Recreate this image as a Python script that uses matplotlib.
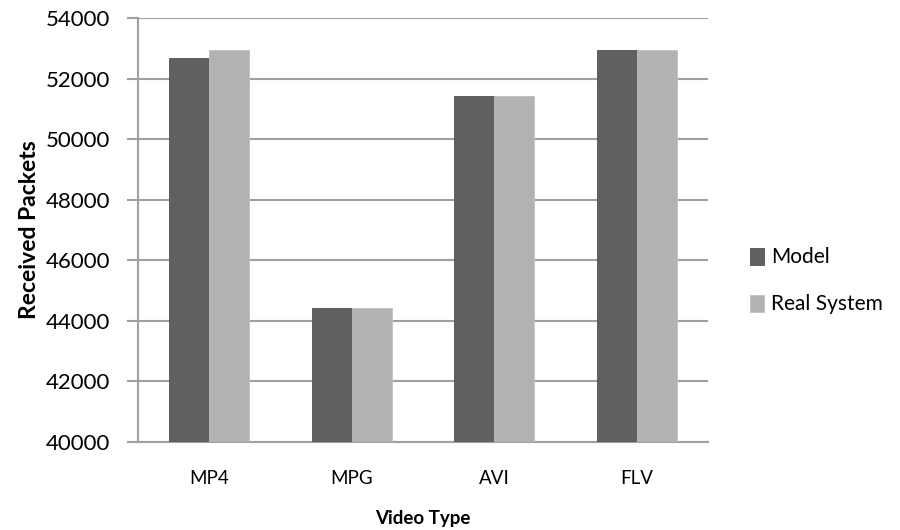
import matplotlib.pyplot as plt
import numpy as np

categories = ['MP4', 'MPG', 'AVI', 'FLV']
model = [52680, 44410, 51430, 52950]
real_system = [52940, 44410, 51430, 52950]

plt.rcParams['font.family'] = ['Lato', 'DejaVu Sans']

fig = plt.figure(figsize=(9, 5.3), dpi=100)
ax = fig.add_axes([0.153, 0.166, 0.634, 0.800])

x = np.arange(len(categories))
w = 0.28
ax.bar(x - w / 2, model, w, color='#606060', edgecolor='#505050', linewidth=0.6, label='Model', zorder=3)
ax.bar(x + w / 2, real_system, w, color='#b2b2b2', edgecolor='#c0c0c0', linewidth=0.6, label='Real System', zorder=3)

ax.set_xlim(-0.5, 3.5)
ax.set_ylim(40000, 54000)
ax.set_yticks(np.arange(40000, 54001, 2000))
ax.set_xticks(x)
ax.set_xticklabels(categories, fontsize=13.5)
ax.tick_params(axis='y', labelsize=16, length=8, width=1.5, color='#a0a0a0', pad=12)
ax.tick_params(axis='x', length=0, pad=20)

ax.grid(axis='y', color='#a0a0a0', linewidth=1.5, zorder=0)
for s in ['top', 'right']:
    ax.spines[s].set_visible(False)
for s in ['left', 'bottom']:
    ax.spines[s].set_color('#a0a0a0')
    ax.spines[s].set_linewidth(1.5)

ax.set_xlabel('Video Type', fontsize=13.5, fontweight='bold', labelpad=17)
ax.set_ylabel('Received Packets', fontsize=16.5, fontweight='bold', labelpad=4)

fig.legend(loc='center left', bbox_to_anchor=(0.812, 0.47), frameon=False, fontsize=15,
           handlelength=0.7, handleheight=0.9, handletextpad=0.35, labelspacing=1.3)

plt.savefig('out.png', dpi=100)
